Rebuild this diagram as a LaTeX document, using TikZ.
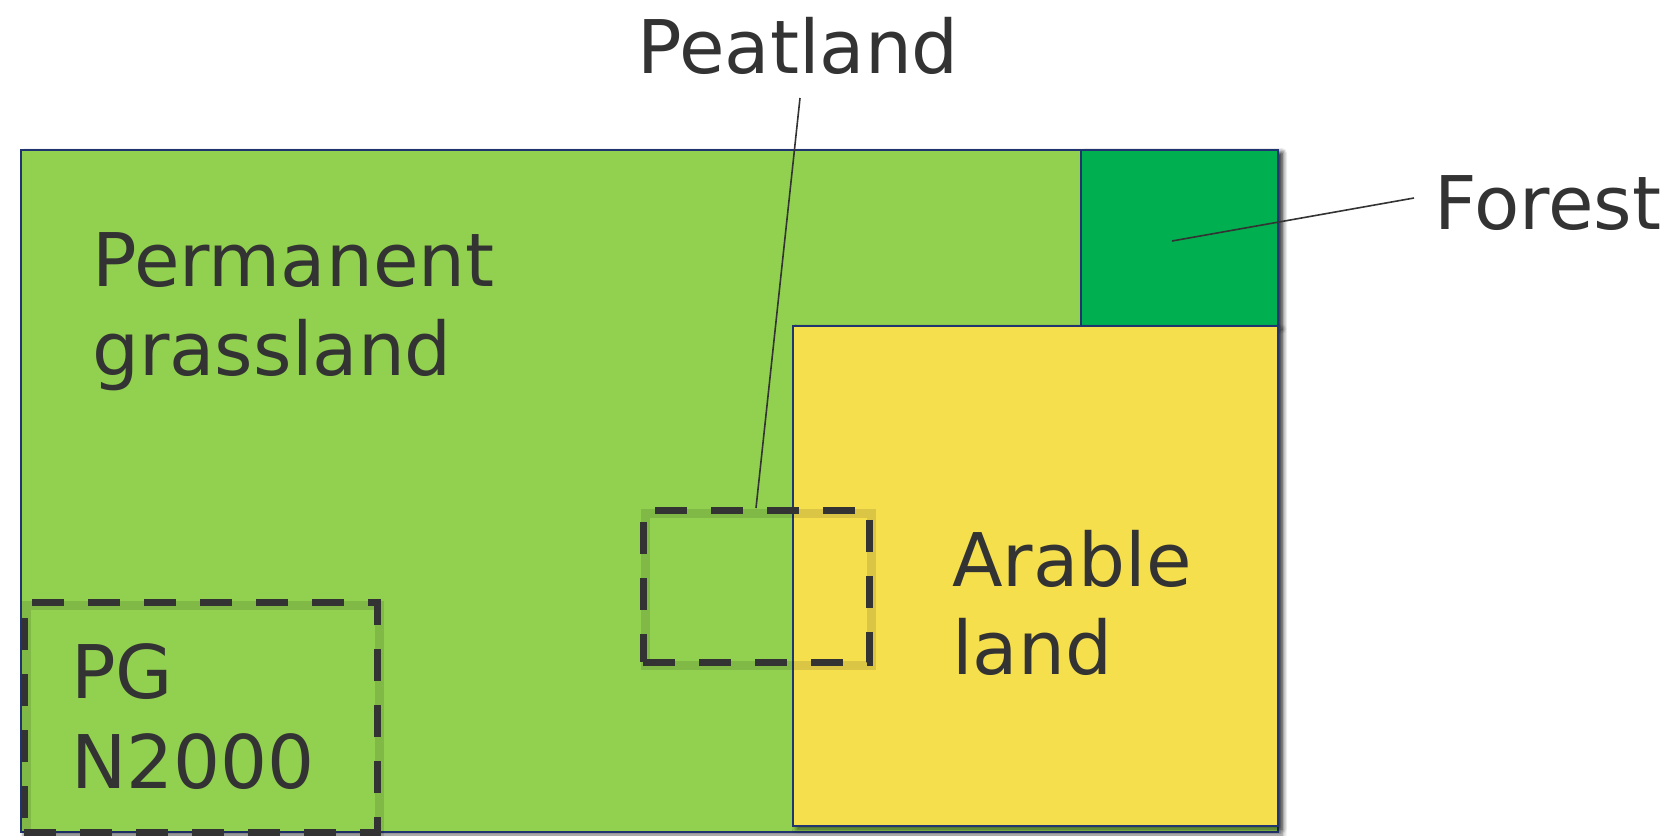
\documentclass[tikz,border=0pt]{standalone}
\usepackage{fontspec}
\setmainfont{DejaVu Sans}
\usetikzlibrary{shadows.blur}
\definecolor{grass}{HTML}{92D050}
\definecolor{wood}{HTML}{00B050}
\definecolor{crop}{HTML}{F5DF4D}
\definecolor{rim}{HTML}{1F3471}
\definecolor{ink}{HTML}{333333}
\tikzset{
  area/.style={draw=rim, line width=2.4pt, inner sep=0pt, outer sep=0pt, anchor=north west,
    blur shadow={shadow xshift=4pt, shadow yshift=-3pt, shadow blur radius=5pt, shadow opacity=60}},
  zone/.style={draw=ink, line width=7pt, dash pattern=on 32pt off 24pt, inner sep=0pt, outer sep=0pt, anchor=north west},
  zoneshade/.style={draw=black, opacity=0.11, line width=9pt, inner sep=0pt, outer sep=0pt, anchor=north west},
  lbl/.style={text=ink, inner sep=0pt, font=\fontsize{74}{89}\selectfont},
  leader/.style={draw=ink, line width=1.6pt}
}
\begin{document}
\begin{tikzpicture}[x=1pt, y=-1pt]
\useasboundingbox (0,0) rectangle (1672,835);
% land-use areas
\node[area, fill=grass, minimum width=1257pt, minimum height=682pt] (pg) at (21,150) {};
\node[area, fill=wood, minimum width=197pt, minimum height=176pt] (forest) at (1081,150) {};
\node[area, fill=crop, minimum width=485pt, minimum height=500pt] (arable) at (793,326) {};
% dashed overlays with soft shade
\node[zoneshade, minimum width=226pt, minimum height=152pt] at (645,513) {};
\node[zoneshade, minimum width=353pt, minimum height=230pt] at (26,605) {};
\node[zone, minimum width=226pt, minimum height=152pt] (peat) at (643,510) {};
\node[zone, minimum width=353pt, minimum height=230pt] (natura) at (24,602) {};
% labels
\node[lbl, anchor=base] (peatlbl) at (798,73) {Peatland};
\node[lbl, anchor=base west] (forestlbl) at (1434,229) {Forest};
\node[lbl, anchor=base west] (pglbl1) at (92,286) {Permanent};
\node[lbl, anchor=base west] (pglbl2) at (92,375) {grassland};
\node[lbl, anchor=base west] (arlbl1) at (952,586) {Arable};
\node[lbl, anchor=base west] (arlbl2) at (952,674) {land};
\node[lbl, anchor=base west] (nlbl1) at (71,698) {PG};
\node[lbl, anchor=base west] (nlbl2) at (71,788) {N2000};
% leader lines
\coordinate (peattop) at (800,98);
\coordinate (peatend) at (756,508);
\coordinate (foresttip) at (1414,198);
\coordinate (forestin) at (1172,241);
\draw[leader] (peattop) -- (peatend);
\draw[leader] (foresttip) -- (forestin);
\end{tikzpicture}
\end{document}
